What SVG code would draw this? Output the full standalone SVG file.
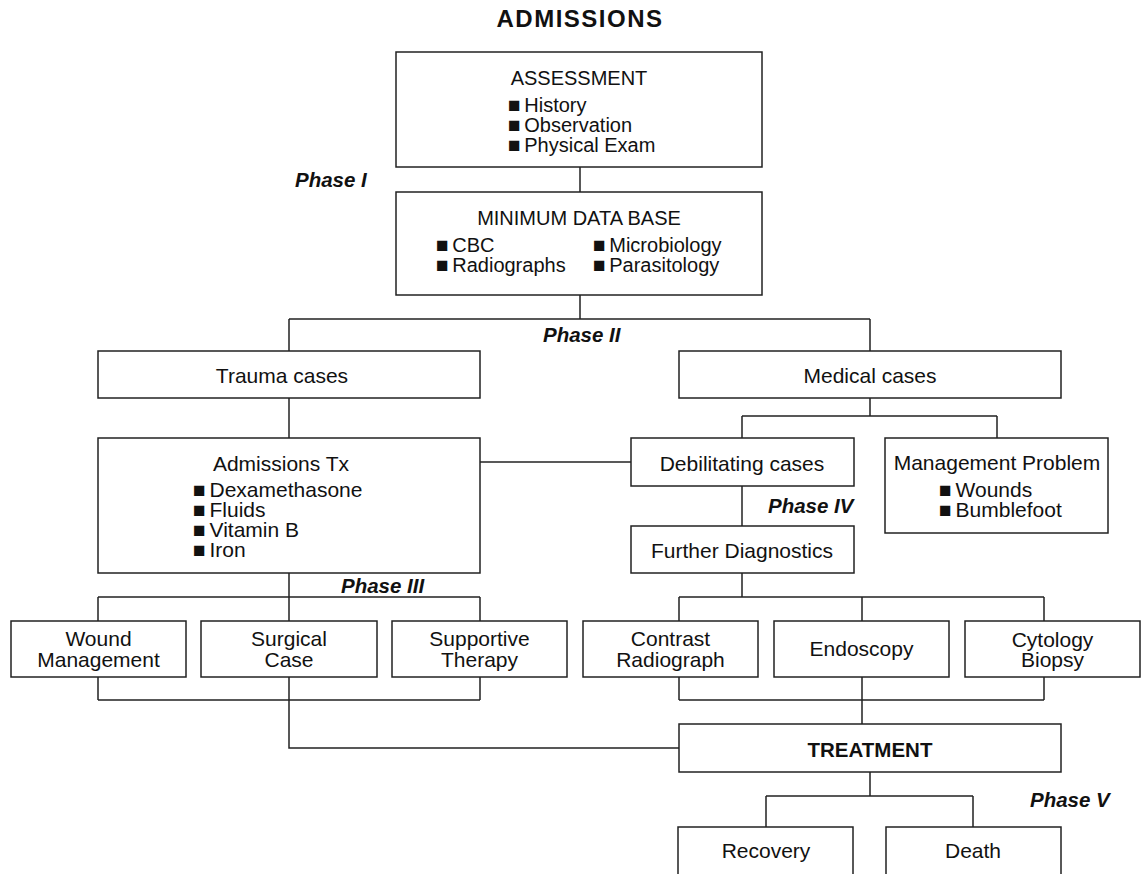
<svg xmlns="http://www.w3.org/2000/svg" width="1142" height="874" viewBox="0 0 1142 874">
<style>
text{font-family:"Liberation Sans",Arial,sans-serif;fill:#111;font-size:21px}
.c{text-anchor:middle}
.t{font-size:24px;font-weight:bold;letter-spacing:1.5px}
.h{font-size:20px}
.b{font-weight:bold;font-size:20.5px}
.p{font-weight:bold;font-style:italic;font-size:20.5px}
.box{fill:#fff;stroke:#222;stroke-width:1.5}
.ln{fill:none;stroke:#222;stroke-width:1.5}
.q{font-size:21px}
</style>
<rect width="1142" height="874" fill="#fff"/>
<g id="connectors" class="ln">
<path d="M580,167V192"/>
<path d="M580,295V319M289,319H870M289,319V351M870,319V351"/>
<path d="M289,398V438"/>
<path d="M480,462H631"/>
<path d="M870,398V416M742,416H997M742,416V438M997,416V438"/>
<path d="M742,486V526"/>
<path d="M742,573V597M679,597H1044M679,597V621M862,597V621M1044,597V621"/>
<path d="M679,677V700M1044,677V700M679,700H1044M862,677V724"/>
<path d="M289,573V621M98,597H480M98,597V621M480,597V621"/>
<path d="M98,677V700M480,677V700M98,700H480M289,677V748H679"/>
<path d="M870,772V796M766,796H973M766,796V827M973,796V827"/>
</g>
<g id="title"><text class="t c" x="580" y="27">ADMISSIONS</text></g>
<g id="assessment">
<rect class="box" x="396" y="52" width="366" height="115"/>
<text class="h c" x="579" y="85">ASSESSMENT</text>
<text class="h"><tspan class="q" x="508" y="112">■</tspan><tspan dx="-2"> History</tspan><tspan class="q" x="508" y="132">■</tspan><tspan dx="-2"> Observation</tspan><tspan class="q" x="508" y="152">■</tspan><tspan dx="-2"> Physical Exam</tspan></text>
</g>
<g id="phase1"><text class="p" x="295" y="187">Phase I</text></g>
<g id="mdb">
<rect class="box" x="396" y="192" width="366" height="103"/>
<text class="h c" x="579" y="225">MINIMUM DATA BASE</text>
<text class="h"><tspan class="q" x="436" y="252">■</tspan><tspan dx="-2"> CBC</tspan><tspan class="q" x="436" y="272">■</tspan><tspan dx="-2"> Radiographs</tspan></text>
<text class="h"><tspan class="q" x="593" y="252">■</tspan><tspan dx="-2"> Microbiology</tspan><tspan class="q" x="593" y="272">■</tspan><tspan dx="-2"> Parasitology</tspan></text>
</g>
<g id="phase2"><text class="p" x="543" y="342">Phase II</text></g>
<g id="trauma">
<rect class="box" x="98" y="351" width="382" height="47"/>
<text class="c" x="282" y="383">Trauma cases</text>
</g>
<g id="medical">
<rect class="box" x="679" y="351" width="382" height="47"/>
<text class="c" x="870" y="383">Medical cases</text>
</g>
<g id="admissions-tx">
<rect class="box" x="98" y="438" width="382" height="135"/>
<text class="c" x="281" y="471">Admissions Tx</text>
<text><tspan class="q" x="193" y="497">■</tspan><tspan dx="-2"> Dexamethasone</tspan><tspan class="q" x="193" y="517">■</tspan><tspan dx="-2"> Fluids</tspan><tspan class="q" x="193" y="537">■</tspan><tspan dx="-2"> Vitamin B</tspan><tspan class="q" x="193" y="557">■</tspan><tspan dx="-2"> Iron</tspan></text>
</g>
<g id="debilitating">
<rect class="box" x="631" y="438" width="223" height="48"/>
<text class="c" x="742" y="471">Debilitating cases</text>
</g>
<g id="management">
<rect class="box" x="885" y="438" width="223" height="95"/>
<text class="c" x="997" y="470">Management Problem</text>
<text><tspan class="q" x="939" y="497">■</tspan><tspan dx="-2"> Wounds</tspan><tspan class="q" x="939" y="517">■</tspan><tspan dx="-2"> Bumblefoot</tspan></text>
</g>
<g id="phase4"><text class="p" x="768" y="513">Phase IV</text></g>
<g id="further">
<rect class="box" x="631" y="526" width="223" height="47"/>
<text class="c" x="742" y="558">Further Diagnostics</text>
</g>
<g id="phase3"><text class="p" x="341" y="593">Phase III</text></g>
<g id="wound">
<rect class="box" x="11" y="621" width="175" height="56"/>
<text class="c"><tspan x="98.5" y="646">Wound</tspan><tspan x="98.5" y="667">Management</tspan></text>
</g>
<g id="surgical">
<rect class="box" x="201" y="621" width="176" height="56"/>
<text class="c"><tspan x="289" y="646">Surgical</tspan><tspan x="289" y="667">Case</tspan></text>
</g>
<g id="supportive">
<rect class="box" x="392" y="621" width="175" height="56"/>
<text class="c"><tspan x="479.5" y="646">Supportive</tspan><tspan x="479.5" y="667">Therapy</tspan></text>
</g>
<g id="contrast">
<rect class="box" x="583" y="621" width="175" height="56"/>
<text class="c"><tspan x="670.5" y="646">Contrast</tspan><tspan x="670.5" y="667">Radiograph</tspan></text>
</g>
<g id="endoscopy">
<rect class="box" x="774" y="621" width="175" height="56"/>
<text class="c" x="861.5" y="656">Endoscopy</text>
</g>
<g id="cytology">
<rect class="box" x="965" y="621" width="175" height="56"/>
<text class="c"><tspan x="1052.5" y="647">Cytology</tspan><tspan x="1052.5" y="667">Biopsy</tspan></text>
</g>
<g id="treatment">
<rect class="box" x="679" y="724" width="382" height="48"/>
<text class="b c" x="870" y="757">TREATMENT</text>
</g>
<g id="phase5"><text class="p" x="1030" y="807">Phase V</text></g>
<g id="recovery">
<rect class="box" x="678" y="827" width="175" height="70"/>
<text class="c" x="766" y="858">Recovery</text>
</g>
<g id="death">
<rect class="box" x="886" y="827" width="175" height="70"/>
<text class="c" x="973" y="858">Death</text>
</g>
</svg>
